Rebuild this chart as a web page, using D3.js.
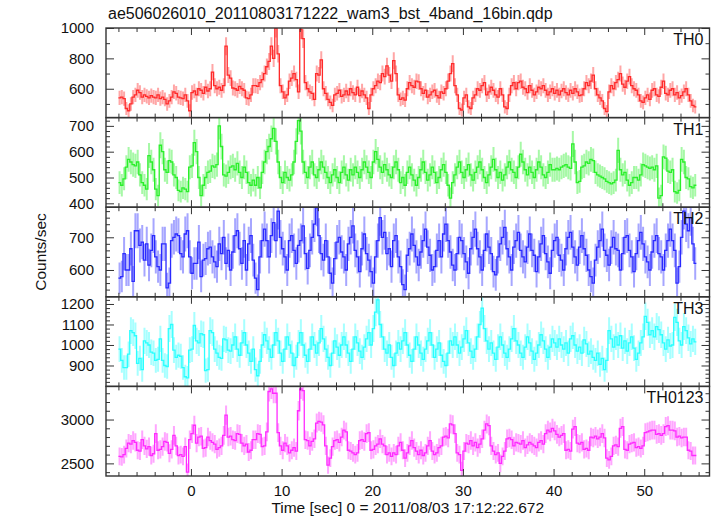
<!DOCTYPE html>
<html><head><meta charset="utf-8">
<script src="https://cdn.jsdelivr.net/npm/d3@7"></script>
<style>
body{margin:0;background:#fff}
svg{display:block}
text{font-family:"Liberation Sans",Arial,Helvetica,sans-serif;fill:#111}
</style>
</head><body><svg id="c" width="717" height="516"></svg>
<script>
// ---- data ----
const binStart = -8, binSize = 0.25;
const th0 = [
540,545,535,470, 455,500,545,560, 590,575,545,560, 550,540,555,545,
540,560,535,545, 530,500,520,545, 580,570,545,540, 535,560,520,455,
575,585,560,600, 590,570,610,585, 600,710,620,600, 610,590,620,880,
690,670,605,600, 590,615,600,590, 540,535,560,620, 620,615,640,660,
700,745,780,880, 800,1000,830,620, 580,540,560,650, 670,700,660,580,
990,930,640,600, 580,570,530,700, 690,790,600,570, 530,510,490,560,
570,590,550,560, 585,560,600,575, 560,610,555,585, 560,540,470,560,
600,620,650,640, 700,680,750,690, 650,785,700,560, 530,540,525,600,
640,620,610,650, 645,600,570,590, 545,560,580,590, 555,540,580,570,
600,650,700,765, 620,560,470,460, 540,560,480,470, 540,560,600,590,
620,640,560,580, 610,590,560,545, 600,560,480,470, 560,620,640,600,
640,650,610,600, 575,620,590,560, 580,610,600,620, 590,560,580,600,
570,590,560,585, 600,575,560,590, 570,600,580,555, 560,600,640,620,
650,690,600,560, 540,520,470,450, 580,620,600,640, 660,700,630,610,
650,680,620,600, 590,560,520,510, 540,560,530,590, 600,560,550,610,
650,570,560,590, 600,560,575,540, 555,580,600,560, 520,490,480
];
const th1 = [
480,470,495,540, 570,560,550,545, 560,510,480,470, 455,585,560,530,
455,430,625,600, 530,520,565,560, 510,500,450,445, 460,455,445,540,
545,635,600,500, 430,470,500,520, 525,545,540,550, 700,620,510,505,
520,540,545,530, 555,520,500,540, 520,480,470,490, 470,500,460,520,
560,600,620,650, 690,640,560,500, 480,520,500,490, 510,560,640,720,
680,560,520,500, 540,560,510,500, 530,560,540,520, 500,480,510,530,
500,480,520,540, 510,490,530,510, 540,520,500,530, 560,540,520,500,
560,600,570,540, 520,550,530,510, 500,540,560,530, 480,500,470,520,
540,510,490,470, 500,530,560,520, 490,510,540,520, 480,500,530,550,
520,470,420,480, 510,540,560,520, 500,530,550,510, 490,520,540,560,
530,500,480,510, 540,570,530,500, 520,490,510,540, 560,530,520,500,
540,590,560,530, 510,540,520,500, 530,560,540,510, 500,520,550,530,
530,535,530,540, 545,550,540,535, 630,560,480,485, 540,545,560,555,
570,565,520,510, 505,500,495,485, 480,475,480,490, 605,530,510,520,
490,470,480,500, 500,490,510,550, 545,540,535,540, 530,545,420,430,
580,575,525,520, 530,445,440,450, 570,560,500,495, 465,460,470
];
const th2 = [
575,580,650,600, 600,665,565,720, 720,675,685,630, 680,615,660,705,
640,610,600,680, 680,545,560,690, 700,710,705,650, 640,710,720,640,
590,620,620,685, 580,630,635,665, 670,640,625,610, 680,650,700,620,
660,600,655,705, 720,665,620,690, 600,680,705,630, 575,540,640,690,
725,690,640,705, 745,690,780,700, 665,640,600,690, 705,660,620,675,
690,735,650,605, 660,700,740,790, 705,650,630,690, 640,590,560,635,
685,700,655,640, 600,680,700,735, 660,640,595,665, 710,650,630,595,
560,640,690,760, 700,715,650,665, 610,690,705,640, 610,555,540,645,
665,710,675,640, 615,655,690,725, 670,645,600,610, 660,690,640,710,
740,690,655,615, 600,650,700,690, 650,625,590,665, 700,725,665,640,
600,660,710,670, 650,595,585,640, 680,700,730,665, 640,600,670,690,
715,660,640,625, 670,710,660,645, 595,640,680,705, 650,625,590,660,
690,700,645,630, 600,665,700,715, 670,640,615,670, 705,665,645,600,
580,560,630,670, 690,725,660,645, 615,670,700,665, 660,600,650,700,
705,660,640,595, 650,690,715,680, 640,625,600,655, 690,705,650,640,
600,660,690,725, 690,660,560,610, 700,780,740,720, 760,680,620
];
const th3 = [
980,925,890,890, 955,1070,1060,1045, 910,935,880,1020, 1010,1000,965,960,
925,930,1030,925, 900,895,1080,1100, 975,940,950,945, 890,845,840,975,
980,1095,1020,1010, 1055,1050,875,880, 1070,1060,980,960, 940,935,1030,1025,
975,970,1000,1040, 980,950,1010,1060, 1000,960,920,980, 880,850,920,1000,
1050,1020,980,940, 1000,1060,1020,960, 920,980,1040,1000, 960,900,940,1010,
1060,1000,950,920, 980,1040,1000,960, 1010,1080,1030,980, 940,900,960,1020,
990,950,1000,1040, 1000,960,920,980, 1040,1010,970,940, 990,1030,1060,1000,
1080,1160,1220,1100, 1040,980,960,1000, 940,900,960,1010, 980,1020,1060,1000,
950,920,980,1040, 1000,960,930,980, 1020,1060,1000,940, 980,1010,950,920,
900,960,1020,1000, 1040,1000,960,990, 1030,1070,1010,970, 940,980,1040,1100,
1180,1080,1020,980, 1010,960,930,990, 1040,1000,960,940, 980,1030,1080,1020,
1000,960,940,990, 1040,1010,970,930, 960,1000,1050,1020, 980,940,990,1030,
1010,990,1030,1000, 980,1010,960,1030, 1045,1000,970,990, 960,1025,1005,955,
970,940,925,960, 905,935,880,925, 1070,1030,990,1040, 1000,1045,985,1020,
970,1010,1040,985, 930,960,1010,1040, 1140,1110,1050,1070, 1040,1090,1075,1050,
1010,980,1025,995, 1000,1135,1110,1020, 1000,1090,1070,1035, 1005,1030,1015
];
const th0123 = [
2580,2575,2600,2670, 2730,2720,2760,2740, 2650,2640,2770,2700, 2665,2690,2590,2610,
2840,2650,2660,2690, 2750,2740,2615,2660, 2820,2700,2590,2600, 2580,2690,2400,2770,
2840,2935,2730,2800, 2810,2670,2680,2800, 2760,2740,2720,2660, 2680,2700,2820,3050,
2800,2810,2770,2760, 2840,2830,2730,2700, 2720,2630,2650,2770, 2770,2840,2830,2690,
2700,2860,3320,3350, 3300,3300,2850,2700, 2650,2730,2700,2620, 2650,2680,2640,3100,
3350,3330,2770,2760, 2700,2750,2780,2960, 2980,2970,2940,2700, 2480,2560,2690,2760,
2770,2740,2800,2880, 2860,2650,2640,2620, 2600,2620,2760,2770, 2750,2840,2850,2650,
2660,2700,2720,2780, 2720,2700,2600,2620, 2580,2620,2600,2700, 2740,2650,2560,2620,
2700,2760,2680,2640, 2600,2650,2590,2620, 2700,2760,2640,2600, 2620,2680,2700,2800,
2810,2790,2950,2940, 2840,2620,2600,2420, 2640,2730,2720,2760, 2700,2740,2680,2720,
2780,2880,2950,2930, 2700,2640,2600,2620, 2500,2580,2640,2780, 2790,2770,2700,2740,
2730,2720,2760,2680, 2710,2740,2720,2700, 2680,2740,2760,2720, 2840,2880,2860,2900,
2870,2830,2800,2820, 2840,2650,2660,2640, 2890,2920,2730,2720, 2740,2660,2670,2650,
2800,2790,2810,2780, 2800,2840,2790,2560, 2540,2580,2700,2710, 2690,2900,2920,2660,
2650,2720,2730,2740, 2680,2690,2670,2700, 2850,2860,2870,2880, 2880,2830,2840,2820,
2840,2920,2930,2880, 2880,2870,2800,2810, 2790,2800,2800,2650, 2640,2590,2590
];
const panelNames = ["TH0","TH1","TH2","TH3","TH0123"];
const panelSeries = [th0, th1, th2, th3, th0123];
const panelColors = ["#ff2a2a","#2aef2a","#2a2aff","#2affff","#ff2aff"];
const yDomains = [[410,1000],[385,732],[518,792],[798,1235],[2356,3378]];
const yMajorTicks = [[600,800,1000],[400,500,600,700],[600,700],[900,1000,1100,1200],[2500,3000]];
const yMinorStep = [100,20,20,20,100];
const xDomain = [-9.37, 57.2];
const xMajorTicks = [0,10,20,30,40,50];
const titleText = "ae506026010_20110803171222_wam3_bst_4band_16bin.qdp";
const xLabelText = "Time [sec] 0 = 2011/08/03 17:12:22.672";
const yLabelText = "Counts/sec";

// ---- layout ----
const L = 106, R = 709.5, T = 28, B = 476;
const nP = panelSeries.length, pH = (B - T) / nP;
const svg = d3.select("#c");
const x = d3.scaleLinear().domain(xDomain).range([L, R]);
const xMinor = d3.range(-8, 57, 2).filter(v => v % 10 !== 0);
const axisColor = "#333";

panelSeries.forEach((vals, p) => {
  const top = T + p * pH, bot = top + pH;
  const y = d3.scaleLinear().domain(yDomains[p]).range([bot, top]);
  const g = svg.append("g");
  const clipId = "clip" + p;
  svg.append("clipPath").attr("id", clipId).append("rect")
    .attr("x", L).attr("y", top).attr("width", R - L).attr("height", pH);
  const data = vals.map((v, i) => ({s: binStart + i * binSize, v, e: Math.sqrt(v / binSize)}));
  const col = panelColors[p];
  const dg = g.append("g").attr("clip-path", `url(#${clipId})`);
  dg.selectAll("line.err").data(data).join("line").attr("class","err")
    .attr("x1", d => x(d.s + binSize/2)).attr("x2", d => x(d.s + binSize/2))
    .attr("y1", d => y(d.v - d.e)).attr("y2", d => y(d.v + d.e))
    .attr("stroke", col).attr("stroke-opacity", 0.42).attr("stroke-width", 2);
  const pts = data.map(d => [d.s, d.v]);
  pts.push([data[data.length-1].s + binSize, data[data.length-1].v]);
  const line = d3.line().x(d => x(d[0])).y(d => y(d[1])).curve(d3.curveStepAfter);
  dg.append("path").attr("d", line(pts)).attr("fill","none")
    .attr("stroke", col).attr("stroke-width", 1.3);

  // axes
  const [y0, y1] = yDomains[p];
  const minor = d3.range(Math.ceil(y0 / yMinorStep[p]) * yMinorStep[p], y1 + 0.001, yMinorStep[p])
    .filter(v => !yMajorTicks[p].includes(v));
  const styleAxis = sel => { sel.select(".domain").remove();
    sel.selectAll(".tick line").attr("stroke", axisColor).attr("stroke-width", 1);
    sel.selectAll("text").attr("font-size", 15).attr("fill","#111")
      .attr("font-family", '"Liberation Sans",Arial,sans-serif'); };
  g.append("g").attr("transform", `translate(${L},0)`)
    .call(d3.axisLeft(y).tickValues(yMajorTicks[p]).tickSize(-8).tickPadding(12).tickFormat(d3.format("d"))).call(styleAxis);
  g.append("g").attr("transform", `translate(${L},0)`)
    .call(d3.axisLeft(y).tickValues(minor).tickSize(-4).tickFormat("")).call(styleAxis);
  g.append("g").attr("transform", `translate(${R},0)`)
    .call(d3.axisRight(y).tickValues(yMajorTicks[p]).tickSize(-8).tickFormat("")).call(styleAxis);
  g.append("g").attr("transform", `translate(${R},0)`)
    .call(d3.axisRight(y).tickValues(minor).tickSize(-4).tickFormat("")).call(styleAxis);
  g.append("g").attr("transform", `translate(0,${top})`)
    .call(d3.axisTop(x).tickValues(xMajorTicks).tickSize(-7).tickFormat("")).call(styleAxis);
  g.append("g").attr("transform", `translate(0,${top})`)
    .call(d3.axisTop(x).tickValues(xMinor).tickSize(-4).tickFormat("")).call(styleAxis);
  const isLast = p === nP - 1;
  g.append("g").attr("transform", `translate(0,${bot})`)
    .call(d3.axisBottom(x).tickValues(xMajorTicks).tickSize(-7).tickPadding(9)
      .tickFormat(isLast ? d3.format("d") : "")).call(styleAxis);
  g.append("g").attr("transform", `translate(0,${bot})`)
    .call(d3.axisBottom(x).tickValues(xMinor).tickSize(-4).tickFormat("")).call(styleAxis);

  g.append("rect").attr("x", L).attr("y", top).attr("width", R - L).attr("height", pH)
    .attr("fill","none").attr("stroke", axisColor).attr("stroke-width", 1.4);
  g.append("text").attr("x", R - 6).attr("y", top + 17).attr("text-anchor","end")
    .attr("font-size", 16).text(panelNames[p]);
});

svg.append("text").attr("x", L + 2).attr("y", 19).attr("font-size", 16).text(titleText);
svg.append("text").attr("x", (L + R) / 2).attr("y", 513).attr("text-anchor","middle")
  .attr("font-size", 15.5).text(xLabelText);
svg.append("text").attr("transform", `translate(46,${(T + B) / 2}) rotate(-90)`)
  .attr("text-anchor","middle").attr("font-size", 15.5).text(yLabelText);
</script>
</body></html>
